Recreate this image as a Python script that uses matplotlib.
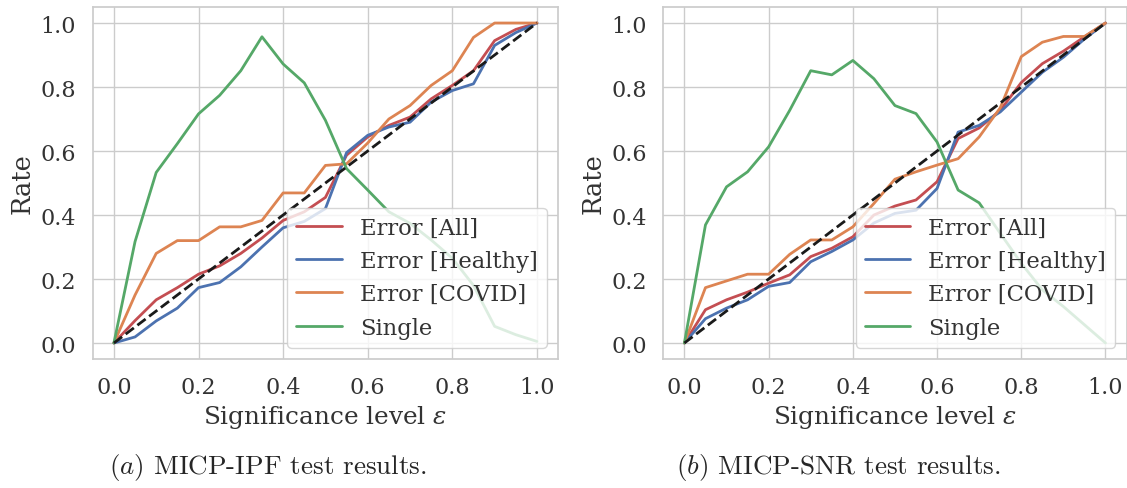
import matplotlib
matplotlib.use("Agg")
import matplotlib.pyplot as plt
import seaborn as sns
import numpy as np

# significance levels
eps = [0.0, 0.05, 0.10, 0.15, 0.20, 0.25, 0.30, 0.35, 0.40, 0.45, 0.50,
       0.55, 0.60, 0.65, 0.70, 0.75, 0.80, 0.85, 0.90, 0.95, 1.0]

# (a) MICP-IPF
ipf_all = [0.0, 0.07, 0.135, 0.173, 0.215, 0.241, 0.28, 0.328, 0.383, 0.41, 0.455,
           0.587, 0.644, 0.68, 0.706, 0.763, 0.805, 0.851, 0.945, 0.98, 1.0]
ipf_healthy = [0.0, 0.019, 0.069, 0.109, 0.173, 0.189, 0.238, 0.30, 0.36, 0.38, 0.42,
               0.595, 0.649, 0.675, 0.69, 0.753, 0.789, 0.81, 0.93, 0.97, 1.0]
ipf_covid = [0.0, 0.15, 0.28, 0.32, 0.32, 0.363, 0.363, 0.383, 0.469, 0.469, 0.555,
             0.56, 0.625, 0.70, 0.742, 0.805, 0.851, 0.955, 1.0, 1.0, 1.0]
ipf_single = [0.0, 0.317, 0.533, 0.623, 0.716, 0.774, 0.851, 0.957, 0.872, 0.813, 0.696,
              0.545, 0.478, 0.41, 0.374, 0.322, 0.265, 0.18, 0.052, 0.026, 0.005]

# (b) MICP-SNR
snr_all = [0.0, 0.104, 0.135, 0.159, 0.187, 0.213, 0.27, 0.296, 0.332, 0.40, 0.428,
           0.447, 0.504, 0.639, 0.672, 0.727, 0.814, 0.873, 0.912, 0.957, 1.0]
snr_healthy = [0.0, 0.076, 0.109, 0.135, 0.177, 0.189, 0.254, 0.286, 0.322, 0.375, 0.405,
               0.415, 0.483, 0.659, 0.68, 0.722, 0.784, 0.846, 0.893, 0.95, 1.0]
snr_covid = [0.0, 0.173, 0.194, 0.215, 0.215, 0.277, 0.322, 0.322, 0.363, 0.436, 0.512,
             0.535, 0.556, 0.576, 0.644, 0.735, 0.895, 0.94, 0.958, 0.958, 1.0]
snr_single = [0.0, 0.369, 0.488, 0.535, 0.613, 0.727, 0.851, 0.838, 0.883, 0.826, 0.742,
              0.717, 0.628, 0.478, 0.438, 0.343, 0.249, 0.166, 0.114, 0.057, 0.0]

labels = ["Error [All]", "Error [Healthy]", "Error [COVID]", "Single"]
captions = [r"$(a)$ MICP-IPF test results.", r"$(b)$ MICP-SNR test results."]

sns.set_theme(style="whitegrid")
plt.rcParams["font.family"] = ["DejaVu Serif"]
plt.rcParams["mathtext.fontset"] = "dejavuserif"
pal = sns.color_palette("deep")
colors = [pal[3], pal[0], pal[1], pal[2]]

fig = plt.figure(figsize=(11.27, 4.89), dpi=100)
ax1 = fig.add_axes([0.0823, 0.2638, 0.4129, 0.7198])
ax2 = fig.add_axes([0.5886, 0.2638, 0.4110, 0.7198])

panels = [(ax1, [ipf_all, ipf_healthy, ipf_covid, ipf_single]),
          (ax2, [snr_all, snr_healthy, snr_covid, snr_single])]

for ax, series in panels:
    for ys, lab, c in zip(series, labels, colors):
        ax.plot(eps, ys, color=c, lw=2, label=lab)
    ax.plot([0, 1], [0, 1], "k--", lw=2)
    ax.set_xticks(np.arange(0, 1.01, 0.2))
    ax.set_yticks(np.arange(0, 1.01, 0.2))
    ax.tick_params(labelsize=16, colors="#333333", pad=6)
    ax.set_xlabel(r"Significance level $\varepsilon$", fontsize=17.8, color="#333333")
    ax.set_ylabel("Rate", fontsize=18.5, color="#333333")
    ax.legend(loc="lower right", fontsize=16.3, labelcolor="#333333")

fig.text(0.238, 0.03, captions[0], fontsize=19.5, family="cmr10",
         math_fontfamily="cm", ha="center")
fig.text(0.744, 0.03, captions[1], fontsize=19.5, family="cmr10",
         math_fontfamily="cm", ha="center")

fig.savefig("out.png", dpi=100)
